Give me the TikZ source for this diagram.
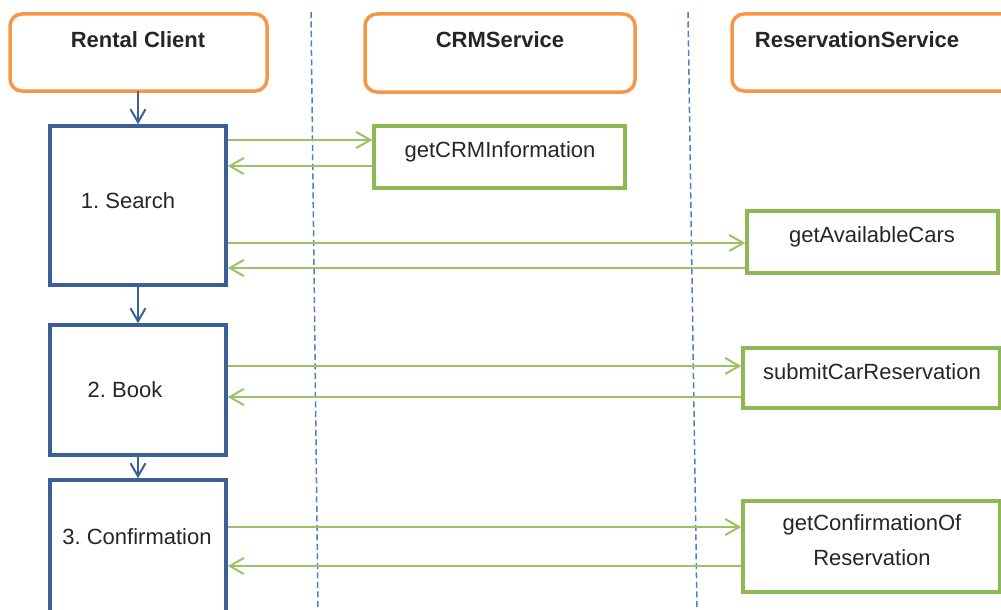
\documentclass[tikz,border=0pt]{standalone}
\usepackage{fontspec}
\setmainfont{Liberation Sans}
\usetikzlibrary{arrows.meta}
\definecolor{orng}{HTML}{F79646}
\definecolor{dblue}{HTML}{3A6096}
\definecolor{lblue}{HTML}{4F81BD}
\definecolor{grn}{HTML}{8DB952}
\definecolor{grna}{HTML}{9BC263}
\frenchspacing
\begin{document}
\begin{tikzpicture}[x=1pt,y=-1pt,
  every node/.style={font=\fontsize{22}{26}\selectfont, text=black!85},
  actor/.style={draw=orng, line width=3.5pt, rounded corners=12pt, inner sep=0pt},
  stepbox/.style={draw=dblue, line width=3.5pt, inner sep=0pt},
  opbox/.style={draw=grn, line width=3.5pt, inner sep=0pt},
  lane/.style={draw=lblue, line width=1.5pt, dash pattern=on 6pt off 3.5pt},
  flow/.style={draw=dblue, line width=2pt, -{Straight Barb[length=13pt,width=15pt,line width=2pt]}},
  msg/.style={draw=grna, line width=2pt, -{Straight Barb[length=14pt,width=16pt,line width=2pt]}},
  lbl/.style={inner sep=0pt, anchor=center}
]
\useasboundingbox (0,0) rectangle (1001,610);
\fill[white] (0,0) rectangle (1001,610);
\begin{scope}
\clip (0,0) rectangle (1001,610);
% lanes
\coordinate (l1t) at (311,12); \coordinate (l1b) at (318,610);
\coordinate (l2t) at (688,12); \coordinate (l2b) at (697,610);
\draw[lane] (l1t) -- (l1b);
\draw[lane] (l2t) -- (l2b);
% actors
\draw[actor] (10,14) rectangle (267,91);
\node[lbl, font=\fontsize{22}{26}\selectfont\bfseries] (rc) at (138,40) {Rental Client};
\coordinate (rcb) at (138,91);
\draw[actor] (365,14) rectangle (635,92);
\node[lbl, font=\fontsize{22}{26}\selectfont\bfseries] (crm) at (500,40) {CRMService};
\draw[actor] (732,14) rectangle (1030,91);
\node[lbl, font=\fontsize{22}{26}\selectfont\bfseries] (res) at (857,40) {ReservationService};
% steps
\node[stepbox, minimum width=176pt, minimum height=159pt] (search) at (138,205.5) {};
\node[lbl] at (128,201) {1. Search};
\node[stepbox, minimum width=176pt, minimum height=130pt] (book) at (138,390) {};
\node[lbl] at (125,390) {2. Book};
\node[stepbox, minimum width=176pt, minimum height=160pt] (conf) at (138,560) {};
\node[lbl] at (137,537) {3. Confirmation};
% ops
\node[opbox, minimum width=251pt, minimum height=62pt] (op1) at (499.5,157) {};
\node[lbl] at (500,152) {getCRMInformation};
\node[opbox, minimum width=251pt, minimum height=62pt] (op2) at (872.5,242) {};
\node[lbl] at (872,237) {getAvailableCars};
\node[opbox, minimum width=257pt, minimum height=60pt] (op3) at (871.5,378) {};
\node[lbl] at (872,372) {submitCarReservation};
\node[opbox, minimum width=257pt, minimum height=91pt, align=center] (op4) at (871.5,546.5) {};
\node[lbl, align=center, font=\fontsize{22}{35}\selectfont] at (872,540) {getConfirmationOf\\Reservation};
\end{scope}
% flow arrows
\draw[flow] (rcb) -- (search.north);
\draw[flow] (search.south) -- (book.north);
\draw[flow] (book.south) -- (conf.north);
% messages
\draw[msg] (search.east |- 0,140) -- (op1.west |- 0,140);
\draw[msg] (op1.west |- 0,166) -- (search.east |- 0,166);
\draw[msg] (search.east |- 0,243) -- (op2.west |- 0,243);
\draw[msg] (op2.west |- 0,268) -- (search.east |- 0,268);
\draw[msg] (book.east |- 0,366) -- (op3.west |- 0,366);
\draw[msg] (op3.west |- 0,397) -- (book.east |- 0,397);
\draw[msg] (conf.east |- 0,527) -- (op4.west |- 0,527);
\draw[msg] (op4.west |- 0,566) -- (conf.east |- 0,566);
\end{tikzpicture}
\end{document}
